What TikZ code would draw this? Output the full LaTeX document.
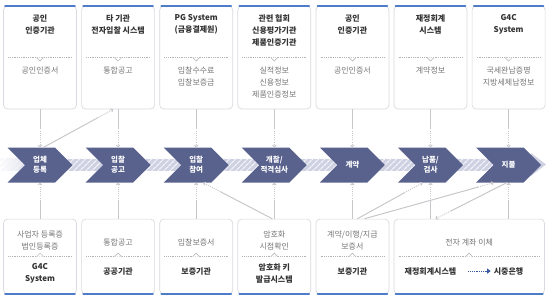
\documentclass[tikz,border=0pt]{standalone}
\usepackage{fontspec}
\setmainfont{Noto Sans CJK KR}
\usetikzlibrary{positioning,arrows.meta,calc,shapes.symbols,patterns.meta}

\definecolor{boxline}{RGB}{218,218,224}
\definecolor{topblue}{RGB}{78,124,200}
\definecolor{chevfill}{RGB}{89,97,141}
\definecolor{bandfill}{RGB}{206,209,226}
\definecolor{linkgray}{RGB}{200,200,204}
\definecolor{sepgray}{RGB}{178,178,184}
\definecolor{headtext}{RGB}{51,51,51}
\definecolor{softtext}{RGB}{118,118,118}
\definecolor{paydark}{RGB}{60,88,165}

% solid part first, dotted part with tip at the far end
\newcommand{\flowlink}[3]{%
  \draw[link] (#2) -- ($(#2)!#1!(#3)$);
  \draw[link, dotlink] ($(#2)!#1!(#3)$) -- (#3);
}

\begin{document}
\begin{tikzpicture}[
    x=1pt, y=-1pt,
    every node/.style={font=\fontsize{8}{12}\selectfont, align=center, inner sep=0pt},
    infobox/.style={draw=boxline, fill=white, rounded corners=4pt, line width=0.7pt, minimum width=73pt},
    upbox/.style={infobox, minimum height=103pt},
    downbox/.style={infobox, minimum height=75pt},
    stage/.style={shape=signal, signal from=west, signal to=east, signal pointer angle=90,
        fill=chevfill, minimum width=65pt, minimum height=35pt, text=white,
        font=\bfseries\fontsize{7.5}{10}\selectfont},
    head/.style={text=headtext, font=\bfseries\fontsize{8}{12}\selectfont},
    note/.style={text=softtext},
    sep/.style={draw=sepgray, dash pattern=on 0.8pt off 1pt, line width=0.5pt},
    notch/.style={draw=sepgray, fill=white, line width=0.5pt},
    blueedge/.style={topblue, line width=2pt, line cap=round},
    link/.style={linkgray, line width=1pt},
    dotlink/.style={dash pattern=on 1pt off 1.2pt, -{Straight Barb[length=1.5pt,width=3.5pt]}}
]
\useasboundingbox (0,0) rectangle (547,298);

% flow band
\shade[left color=white, right color=bandfill] (0,158.5) rectangle (40,170.5);
\fill[bandfill] (40,158.5) rectangle (531,170.5);
\fill[bandfill] (531,153) -- (546,164.5) -- (531,176) -- cycle;
\fill[pattern={Lines[angle=45,distance=4pt,line width=1.3pt]}, pattern color=white!75!bandfill]
    (0,158.5) rectangle (531,170.5);

% top boxes
\node[upbox] (t1) at (40,57.5) {};
\node[upbox, right=4.4pt of t1] (t2) {};
\node[upbox, right=4.4pt of t2] (t3) {};
\node[upbox, right=4.4pt of t3] (t4) {};
\node[upbox, right=4.4pt of t4] (t5) {};
\node[upbox, right=4.4pt of t5] (t6) {};
\node[upbox, right=4.4pt of t6] (t7) {};

% stages
\node[stage, below=38pt of t1] (c1) {업체\\등록};
\node[stage, below=38pt of t2] (c2) {입찰\\공고};
\node[stage, below=38pt of t3] (c3) {입찰\\참여};
\node[stage, below=38pt of t4] (c4) {개찰/\\적격심사};
\node[stage, below=38pt of t5] (c5) {계약};
\node[stage, below=38pt of t6] (c6) {납품/\\검사};
\node[stage, below=38pt of t7] (c7) {지불};

% bottom boxes
\node[downbox, below=36pt of c1] (b1) {};
\node[downbox, below=36pt of c2] (b2) {};
\node[downbox, below=36pt of c3] (b3) {};
\node[downbox, below=36pt of c4] (b4) {};
\node[downbox, below=36pt of c5] (b5) {};
\node[downbox, right=4.4pt of b5, minimum width=150.4pt] (b6) {};

\foreach \b in {t1,t2,t3,t4,t5,t6,t7} {
  \draw[sep] ([xshift=5pt]\b.west) -- ([xshift=-5pt]\b.east);
  \filldraw[notch] ([xshift=-3.5pt]\b.center) -- ([yshift=-3.5pt]\b.center) -- ([xshift=3.5pt]\b.center);
  \draw[blueedge] ([xshift=2pt]\b.north west) -- ([xshift=-2pt]\b.north east);
}
\foreach \b in {b1,b2,b3,b4,b5,b6} {
  \draw[sep] ([xshift=5pt]\b.west) -- ([xshift=-5pt]\b.east);
  \filldraw[notch] ([xshift=-3.5pt]\b.center) -- ([yshift=3.5pt]\b.center) -- ([xshift=3.5pt]\b.center);
  \draw[blueedge] ([xshift=2pt]\b.south west) -- ([xshift=-2pt]\b.south east);
}

% top texts
\node[head, below=9pt of t1.north] (t1h) {공인\\인증기관};
\node[head, below=9pt of t2.north] (t2h) {타 기관\\전자입찰 시스템};
\node[head, below=9pt of t3.north] (t3h) {PG System\\(금융결제원)};
\node[head, below=9pt of t4.north] (t4h) {관련 협회\\신용평가기관\\제품인증기관};
\node[head, below=9pt of t5.north] (t5h) {공인\\인증기관};
\node[head, below=9pt of t6.north] (t6h) {재정회계\\시스템};
\node[head, below=9pt of t7.north] (t7h) {G4C\\System};

\node[note, below=9pt of t1.center] (t1n) {공인인증서};
\node[note, below=9pt of t2.center] (t2n) {통합공고};
\node[note, below=9pt of t3.center] (t3n) {입찰수수료\\입찰보증금};
\node[note, below=9pt of t4.center] (t4n) {실적정보\\신용정보\\제품인증정보};
\node[note, below=9pt of t5.center] (t5n) {공인인증서};
\node[note, below=9pt of t6.center] (t6n) {계약정보};
\node[note, below=9pt of t7.center] (t7n) {국세완납증명\\지방세체납정보};

% bottom texts
\node[note] (b1n) at ([yshift=16.5pt]b1.center) {사업자 등록증\\법인등록증};
\node[note] (b2n) at ([yshift=14pt]b2.center) {통합공고};
\node[note] (b3n) at ([yshift=14pt]b3.center) {입찰보증서};
\node[note] (b4n) at ([yshift=16.5pt]b4.center) {암호화\\시점확인};
\node[note] (b5n) at ([yshift=16.5pt]b5.center) {계약/이행/지급\\보증서};
\node[note] (b6n) at ([yshift=14pt]b6.center) {전자 계좌 이체};

\node[head] (b1h) at ([yshift=-16.5pt]b1.center) {G4C\\System};
\node[head] (b2h) at ([yshift=-14.5pt]b2.center) {공공기관};
\node[head] (b3h) at ([yshift=-14.5pt]b3.center) {보증기관};
\node[head] (b4h) at ([yshift=-17pt]b4.center) {암호화 키\\발급시스템};
\node[head] (b5h) at ([yshift=-14.5pt]b5.center) {보증기관};
\node[head] (b6h) at ([yshift=-14.5pt]b6.center -| c6) {재정회계시스템};
\node[head] (b6k) at ([yshift=-14.5pt]b6.center -| c7) {시중은행};
\draw[paydark, line width=1.2pt, dash pattern=on 1pt off 0.8pt, -{Triangle[length=3.5pt,width=5pt]},
    shorten <=12pt, shorten >=3pt] (b6h) -- (b6k);

% links
\flowlink{0.5}{t1.south}{c1.north}
\flowlink{0.5}{t2.south}{c2.north}
\flowlink{0.5}{t3.south}{c3.north}
\flowlink{0.5}{t4.south}{c4.north}
\flowlink{0.5}{t5.south}{c5.north}
\flowlink{0.5}{t6.south}{c6.north}
\flowlink{0.5}{t7.south}{c7.north}

\flowlink{0.5}{b1.north}{c1.south}
\flowlink{0.5}{b2.north}{c2.south}
\flowlink{0.5}{b3.north}{c3.south}
\flowlink{0.5}{b4.north}{c4.south}
\flowlink{0.5}{b5.north}{c5.south}
\flowlink{0.5}{c6.south |- b6.north}{c6.south}
\flowlink{0.5}{c7.south |- b6.north}{c7.south}

\flowlink{0.78}{[xshift=3.5pt]c1.north}{[xshift=-5pt]t2.south}
\flowlink{0.75}{[xshift=-2pt]b4.north}{[xshift=7pt]c3.south}
\flowlink{0.72}{[xshift=5pt]b5.north}{[xshift=-8pt]c6.south}
\flowlink{0.88}{[xshift=12pt]b5.north}{[xshift=-15pt]c7.south}
\flowlink{0.78}{[xshift=-2pt]c7.south}{[xshift=5pt]c6.south |- b6.north}
\end{tikzpicture}
\end{document}
